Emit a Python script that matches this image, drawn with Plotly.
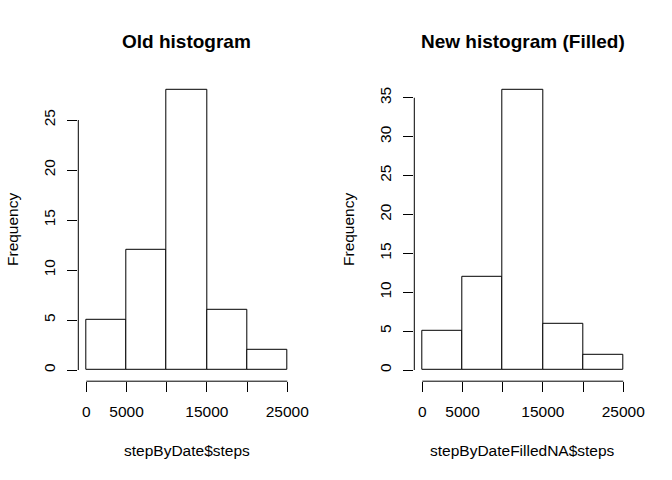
import plotly.graph_objects as go

# ---- data ----
bin_edges = [0, 5000, 10000, 15000, 20000, 25000]
old_counts = [5, 12, 28, 6, 2]
new_counts = [5, 12, 36, 6, 2]
x_ticks = [0, 5000, 10000, 15000, 20000, 25000]
x_ticktext = ["0", "5000", "", "15000", "", "25000"]
old_yticks = [0, 5, 10, 15, 20, 25]
new_yticks = [0, 5, 10, 15, 20, 25, 30, 35]
titles = ["Old histogram", "New histogram (Filled)"]
xlabels = ["stepByDate$steps", "stepByDateFilledNA$steps"]
ylabel = "Frequency"

W, H = 672, 480
FONT = "Liberation Sans, Arial, sans-serif"

centers = [(a + b) / 2 for a, b in zip(bin_edges[:-1], bin_edges[1:])]
widths = [b - a for a, b in zip(bin_edges[:-1], bin_edges[1:])]

fig = go.Figure()

x_domains = [[78.3 / W, 295.3 / W], [414.3 / W, 631.3 / W]]
y_domain = [(H - 381.2) / H, (H - 78.8) / H]

panels = [(old_counts, old_yticks), (new_counts, new_yticks)]
annotations = []
shapes = []
for i, (counts, yticks) in enumerate(panels):
    xa = "x" if i == 0 else "x2"
    ya = "y" if i == 0 else "y2"
    fig.add_trace(go.Bar(
        x=centers, y=counts, width=widths,
        marker=dict(color="white", line=dict(color="black", width=1)),
        xaxis=xa, yaxis=ya, showlegend=False, hoverinfo="x+y",
    ))
    xr = bin_edges[-1] - bin_edges[0]
    xrange = [bin_edges[0] - 0.04 * xr, bin_edges[-1] + 0.04 * xr]
    ymax = max(counts)
    yrange = [-0.04 * ymax, ymax * 1.04]
    axis_common = dict(
        showgrid=False, zeroline=False, showline=False, automargin=False,
        ticks="outside", ticklen=10, tickwidth=1, tickcolor="black",
        tickfont=dict(family=FONT, size=15.5, color="black"),
        fixedrange=True,
    )
    xkey = "xaxis" if i == 0 else "xaxis2"
    ykey = "yaxis" if i == 0 else "yaxis2"
    fig.update_layout({
        xkey: dict(domain=x_domains[i], range=xrange, anchor=ya,
                   tickvals=x_ticks, ticktext=x_ticktext,
                   ticklabelstandoff=6, **axis_common),
        ykey: dict(domain=y_domain, range=yrange, anchor=xa,
                   tickvals=yticks, ticktext=[str(v) for v in yticks],
                   tickangle=-90, ticklabelstandoff=6, **axis_common),
    })
    xref = "x" if i == 0 else "x2"
    yref = "y" if i == 0 else "y2"
    shapes.append(dict(type="line", xref=xref, yref=yref + " domain",
                       x0=x_ticks[0], x1=x_ticks[-1], y0=0, y1=0,
                       line=dict(color="black", width=1)))
    shapes.append(dict(type="line", xref=xref + " domain", yref=yref,
                       x0=0, x1=0, y0=yticks[0], y1=yticks[-1],
                       line=dict(color="black", width=1)))
    xc = (x_domains[i][0] + x_domains[i][1]) / 2
    annotations.append(dict(text="<b>" + titles[i] + "</b>", xref="paper", yref="paper",
                            x=xc, y=(H - 41) / H, showarrow=False,
                            xanchor="center", yanchor="middle",
                            font=dict(family=FONT, size=19, color="black")))
    annotations.append(dict(text=xlabels[i], xref="paper", yref="paper",
                            x=xc, y=(H - 450) / H, showarrow=False,
                            xanchor="center", yanchor="middle",
                            font=dict(family=FONT, size=15.5, color="black")))
    annotations.append(dict(text=ylabel, xref="paper", yref="paper",
                            x=(13 + i * 336) / W, y=(y_domain[0] + y_domain[1]) / 2,
                            showarrow=False, textangle=-90,
                            xanchor="center", yanchor="middle",
                            font=dict(family=FONT, size=15.5, color="black")))

fig.update_layout(
    width=W, height=H, autosize=False,
    margin=dict(l=0, r=0, t=0, b=0, autoexpand=False),
    paper_bgcolor="white", plot_bgcolor="white",
    bargap=0, annotations=annotations, shapes=shapes,
)

fig.write_html(
    "out.html",
    config={"responsive": False, "displayModeBar": False},
    post_script="document.body.style.margin='0';document.body.style.overflow='hidden';",
)
